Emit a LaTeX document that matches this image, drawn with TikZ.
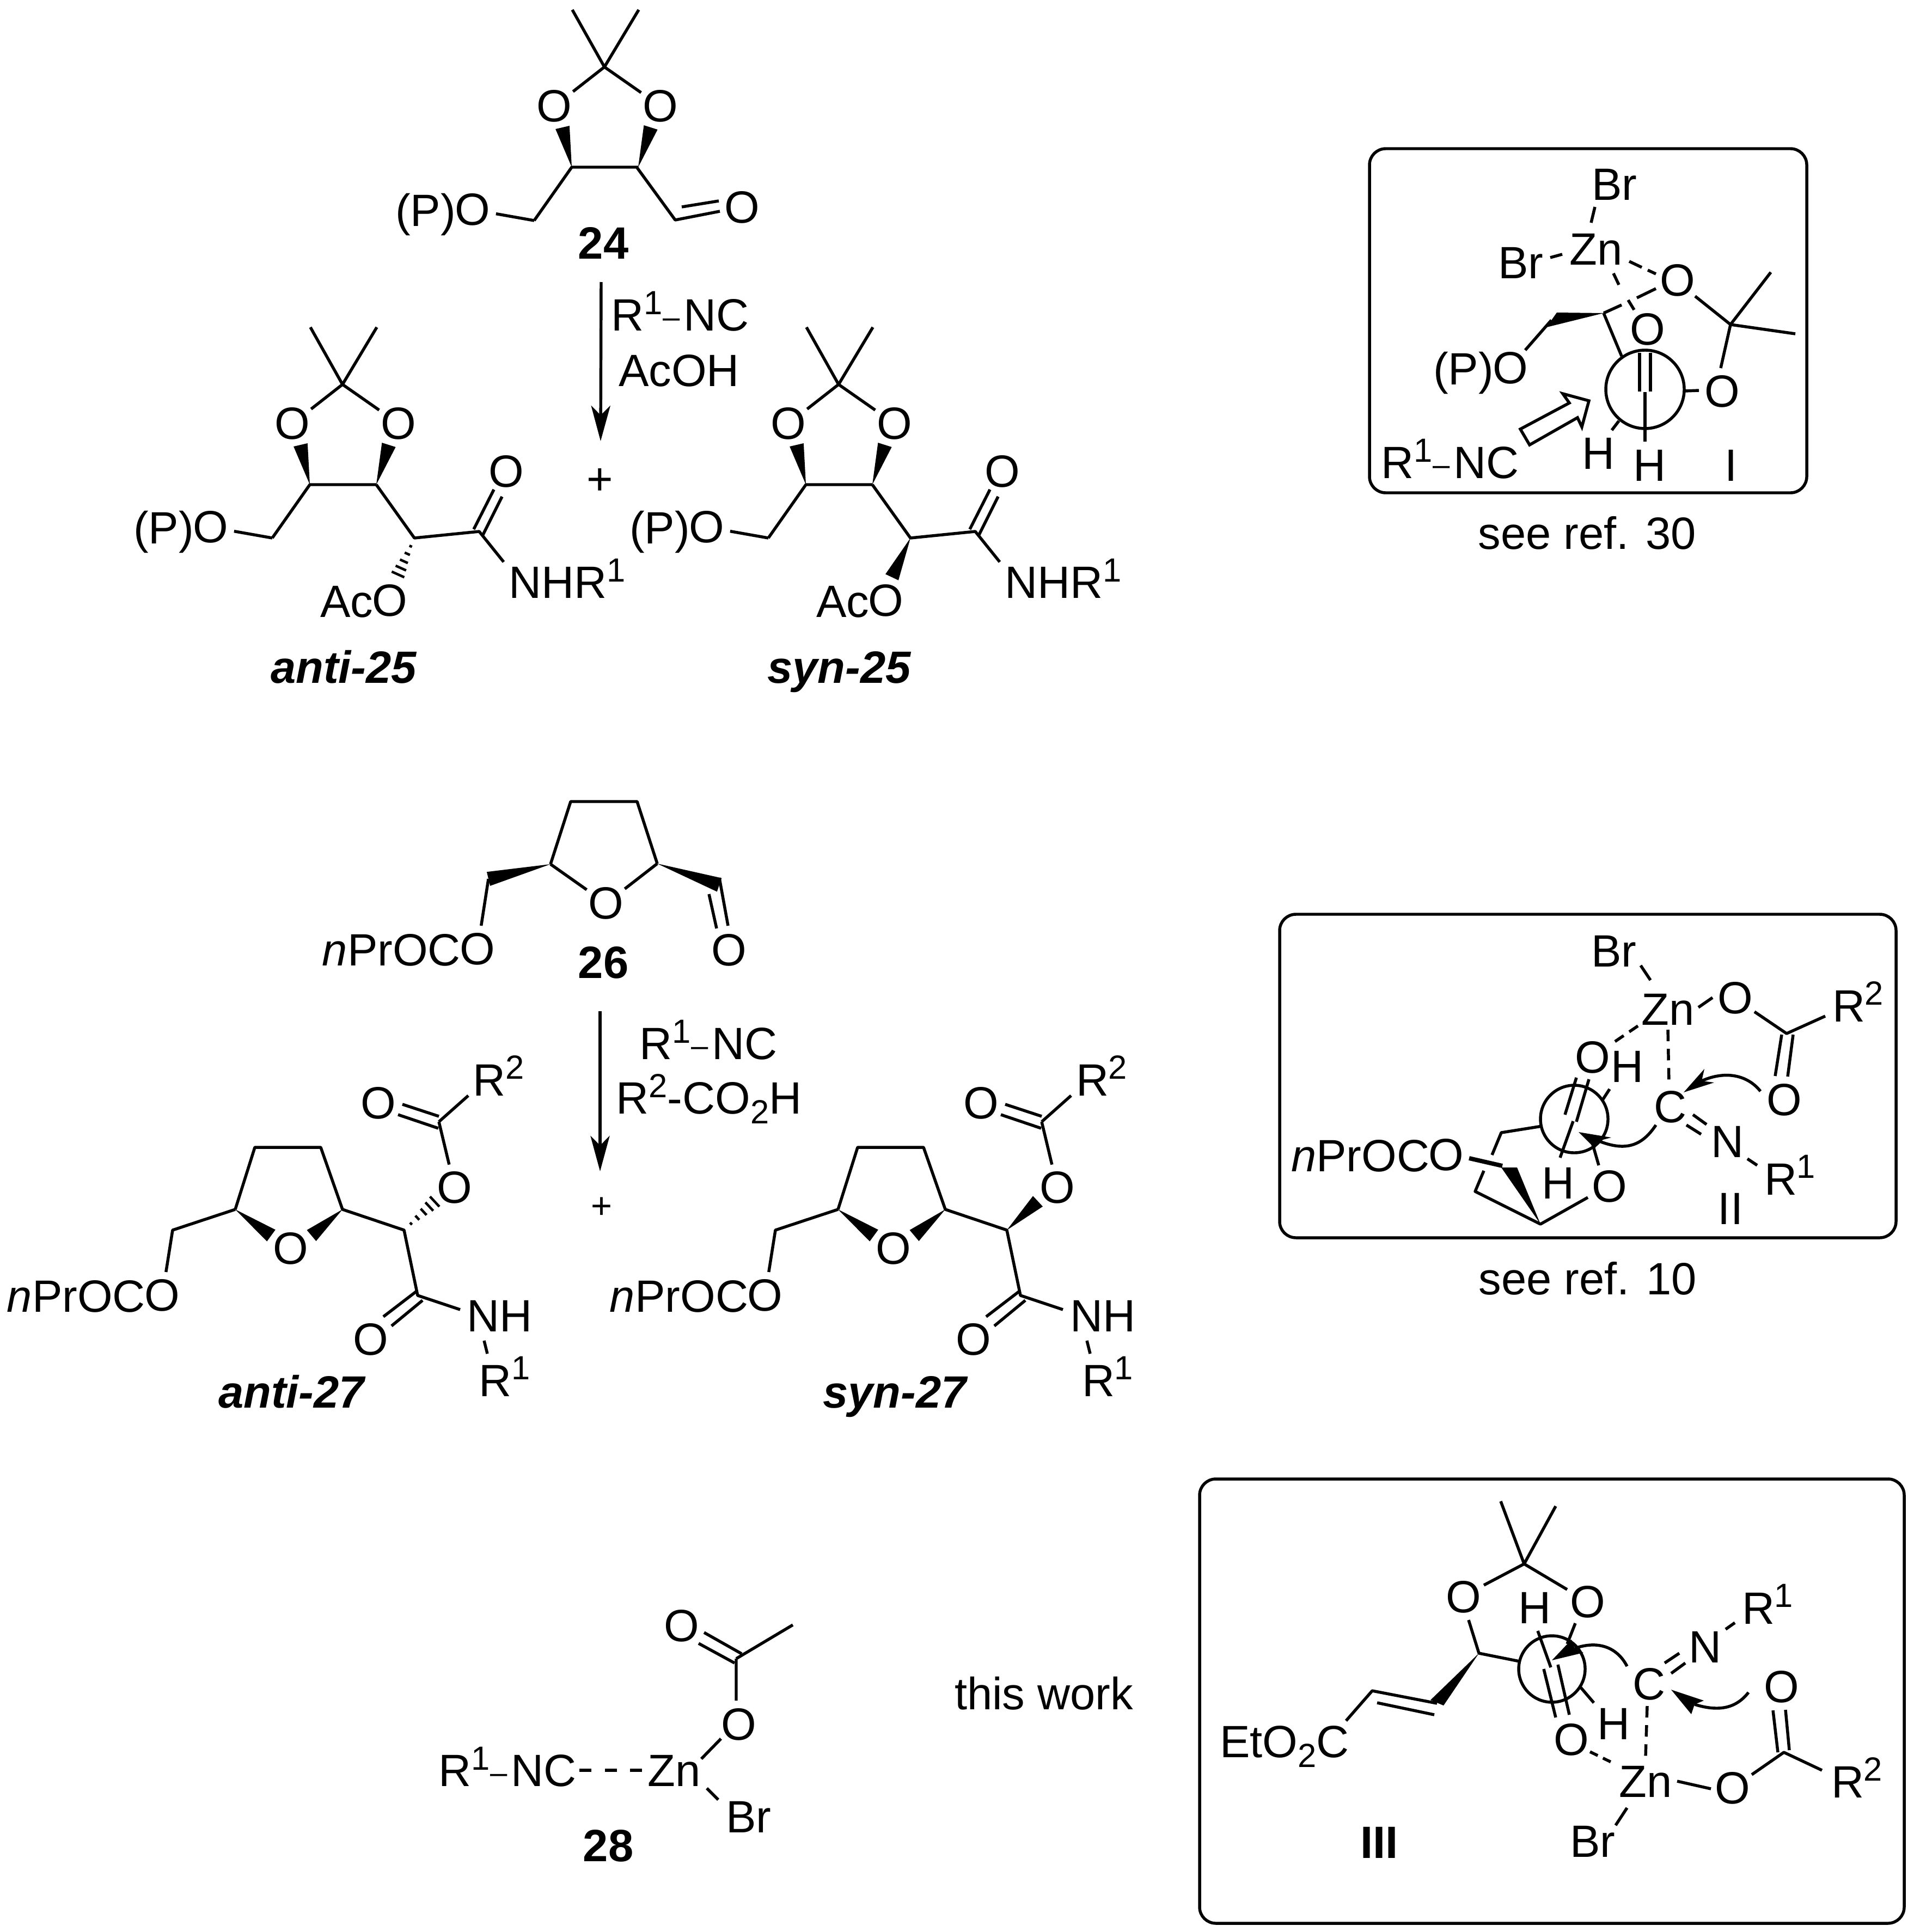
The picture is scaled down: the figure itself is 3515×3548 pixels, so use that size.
\documentclass[tikz,border=0pt]{standalone}
\usepackage{fontspec}
\setmainfont{Liberation Sans}
\usetikzlibrary{calc,arrows.meta}
\newcommand\chup[1]{\raisebox{.36em}{\fontsize{35}{35}\selectfont #1}}
\newcommand\chdn[1]{\raisebox{-.22em}{\fontsize{35}{35}\selectfont #1}}
\newcommand\chdash{\raisebox{.07em}{\fontsize{32}{32}\selectfont –}\kern.08em}
\tikzset{
  bond/.style={line width=3.1pt,line cap=butt,line join=round},
  frame/.style={line width=3.1pt,rounded corners=17pt},
  dbond/.style={bond,dash pattern=on 12pt off 8pt},
  hashb/.style={line width=2.6pt},
  atom/.style={circle,inner sep=0pt,outer sep=0pt,font=\fontsize{47.3}{50}\selectfont},
  lbl/.style={inner sep=0pt,outer sep=0pt,anchor=base,font=\fontsize{47.3}{50}\selectfont},
  supn/.style={inner sep=0pt,outer sep=0pt,font=\fontsize{35}{35}\selectfont},
  cpd/.style={lbl,font=\fontsize{47.3}{50}\selectfont\bfseries},
  cpdi/.style={lbl,font=\fontsize{47.3}{50}\selectfont\bfseries\itshape},
  rxn/.style={line width=3.1pt,-{Stealth[length=37pt,width=20pt,inset=10pt]}},
  openarrow/.style={line width=3.1pt,fill=white,line join=miter}
}
\newcommand\Wdg[2]{\fill ($(#2)!7.5pt!90:(#1)$) -- (#1) -- ($(#2)!7.5pt!-90:(#1)$) -- cycle;}
\newcommand\Hsh[2]{\foreach \t/\w in {.22/1.5,.42/3,.62/4.5,.8/6,.97/7.2}{\draw[hashb] ($(#1)!\t!(#2)!\w pt!90:(#2)$) -- ($(#1)!\t!(#2)!\w pt!-90:(#2)$);}}
% R with a superscript digit: name, x, y, digit
\newcommand\RSup{\RSupInner}
\newcommand\RSupInner[4]{\node[atom] (#1) at (#2,#3) {R}; \node[supn] (#1s) at ([shift={(47,-24)}]#1.center) {#4};}
% text set directly left of an atom
\newcommand\Lft[2]{\node[lbl,anchor=base east] (#1t) at ([shift={(-31,30)}]#1.center) {#2};}
% dioxolane fragment shared by 24 and 25
\newcommand\Diox[1]{
  \coordinate (q#1) at (629,706);
  \coordinate (ma#1) at (570,601);
  \coordinate (mb#1) at (692,601);
  \node[atom] (oa#1) at (537,778) {O};
  \node[atom] (ob#1) at (732,778) {O};
  \coordinate (ca#1) at (569,890);
  \coordinate (cb#1) at (691,890);
  \coordinate (ch#1) at (500,988);
  \node[atom] (op#1) at (387,968) {O};
  \Lft{op#1}{(P)}
  \draw[bond] (ma#1) -- (q#1) -- (mb#1) (q#1) -- (oa#1) (q#1) -- (ob#1) (ch#1) -- (ca#1) -- (cb#1);
  \draw[bond] (ch#1) -- (op#1);
  \Wdg{ca#1}{552,817}
  \Wdg{cb#1}{714,817}
}
% common part of 25
\newcommand\AmideA[1]{
  \coordinate (cx#1) at (761,988);
  \coordinate (cc#1) at (880,976);
  \node[atom] (oc#1) at (930,866) {O};
  \node[atom] (oo#1) at (716,1103) {O};
  \Lft{oo#1}{Ac}
  \node[lbl,anchor=base west] (nh#1) at (934,1098) {NHR\chup{1}};
  \coordinate (nb#1) at (925,1032);
  \coordinate (d1a#1) at (870,972);
  \coordinate (d1b#1) at (907,899);
  \coordinate (d2a#1) at (887,982);
  \coordinate (d2b#1) at (922,912);
  \draw[bond] (cb#1) -- (cx#1) -- (cc#1) -- (nb#1);
  \draw[bond] (d1a#1) -- (d1b#1) (d2a#1) -- (d2b#1);
}
% common part of 27
\newcommand\ThfA[1]{
  \coordinate (ta#1) at (468,2107);
  \coordinate (tb#1) at (589,2107);
  \coordinate (tl#1) at (432,2221);
  \coordinate (tr#1) at (629,2221);
  \node[atom] (to#1) at (534,2293) {O};
  \coordinate (tc#1) at (317,2259);
  \node[atom] (te#1) at (298,2379) {O};
  \Lft{te#1}{\textit{n}PrOC}
  \coordinate (tx#1) at (742,2259);
  \coordinate (ty#1) at (767,2379);
  \node[atom] (tp#1) at (681,2460) {O};
  \node[lbl] (tn#1) at (918,2445) {NH};
  \RSup{tr1#1}{910}{2536}{1}
  \coordinate (tna#1) at (889,2462);
  \coordinate (tnb#1) at (895,2486);
  \coordinate (tnc#1) at (845,2405);
  \node[atom] (tq#1) at (835,2181) {O};
  \coordinate (tk#1) at (806,2060);
  \node[atom] (tw#1) at (695,2026) {O};
  \RSup{tr2#1}{899}{1984}{2}
  \coordinate (tm#1) at (860,2012);
  \coordinate (tl1#1) at (739,2028);
  \coordinate (tl2#1) at (806,2050);
  \coordinate (tl3#1) at (731,2047);
  \coordinate (tl4#1) at (805,2072);
  \coordinate (tp1#1) at (704,2418);
  \coordinate (tp2#1) at (764,2372);
  \coordinate (tp3#1) at (719,2435);
  \coordinate (tp4#1) at (776,2388);
  \draw[bond] (tl#1) -- (ta#1) -- (tb#1) -- (tr#1) -- (tx#1) -- (ty#1) -- (tnc#1) (tl#1) -- (tc#1) -- (te#1);
  \draw[bond] (tna#1) -- (tnb#1) (tk#1) -- (tq#1) (tk#1) -- (tm#1);
  \draw[bond] (tl1#1) -- (tl2#1) (tl3#1) -- (tl4#1) (tp1#1) -- (tp2#1) (tp3#1) -- (tp4#1);
  \Wdg{tl#1}{498,2269}
  \Wdg{tr#1}{572,2269}
}
\begin{document}
\begin{tikzpicture}[x=0.2mm,y=-0.2mm]
\useasboundingbox (0,0) rectangle (3515,3548);

% ---------- compound 24
\begin{scope}[shift={(481,-583)}]
  \Diox{x}
\end{scope}
\coordinate (cho) at (1240,404);
\node[atom] (oald) at (1363,381) {O};
\draw[bond] (1170,308) -- (cho) -- (1322,388);
\draw[bond] (1252,380) -- (1320,369);
\node[cpd] (n24) at (1108,475) {24};
\coordinate (r1a) at (1104,518);
\coordinate (r1b) at (1103,810);
\draw[rxn] (r1a) -- (r1b);
\node[lbl] (r1t) at (1249,607) {R\chup{1}\chdash NC};
\node[lbl] (r1u) at (1247,709) {AcOH};
\node[lbl] (plus1) at (1102,908) {+};

% ---------- anti-25
\Diox{p}
\AmideA{p}
\Hsh{761,988}{730,1057}
\node[cpdi] (anti25) at (631,1254) {anti-25};
% ---------- syn-25
\begin{scope}[shift={(911,0)}]
  \Diox{s}
  \AmideA{s}
  \Wdg{761,988}{727,1060}
\end{scope}
\node[cpdi] (syn25) at (1541,1254) {syn-25};

% ---------- compound 26
\coordinate (fa) at (1048,1472);
\coordinate (fb) at (1170,1472);
\coordinate (fl) at (1011,1587);
\coordinate (fr) at (1207,1586);
\node[atom] (fo) at (1113,1659) {O};
\coordinate (fc) at (897,1614);
\node[atom] (fe) at (877,1743) {O};
\Lft{fe}{\textit{n}PrOC}
\node[atom] (fw) at (1339,1745) {O};
\draw[bond] (fl) -- (fa) -- (fb) -- (fr) (fl) -- (fo) -- (fr) (fc) -- (fe);
\Wdg{fl}{897,1614}
\Wdg{fr}{1321,1625}
\draw[bond] (1321,1612) -- (1337,1700) (1302,1642) -- (1316,1705);
\node[cpd] (n26) at (1108,1796) {26};
\coordinate (r2a) at (1102,1857);
\coordinate (r2b) at (1102,2151);
\draw[rxn] (r2a) -- (r2b);
\node[lbl] (r2t) at (1301,1945) {R\chup{1}\chdash NC};
\node[lbl] (r2u) at (1302,2045) {R\chup{2}-CO\chdn{2}H};
\node[lbl,font=\fontsize{38}{40}\selectfont] (plus2) at (1105,2237) {+};

% ---------- anti-27, syn-27
\ThfA{p}
\Hsh{742,2259}{800,2205}
\node[cpdi] (anti27) at (535,2585) {anti-27};
\begin{scope}[shift={(1107,0)}]
  \ThfA{s}
  \Wdg{742,2259}{799,2206}
\end{scope}
\node[cpdi] (syn27) at (1643,2585) {syn-27};

% ---------- compound 28
\coordinate (zc) at (1352,3046);
\coordinate (zm) at (1456,2984);
\node[atom] (zw) at (1252,2986) {O};
\node[atom] (zo) at (1357,3167) {O};
\node[lbl] (zz) at (1238,3280) {Zn};
\node[lbl] (zn) at (932,3280) {R\chup{1}\chdash NC};
\node[lbl] (zb) at (1375,3365) {Br};
\coordinate (zda) at (1064,3251);
\coordinate (zdb) at (1180,3251);
\draw[bond,dash pattern=on 12.5pt off 14pt] (zda) -- (zdb);
\draw[bond] (zc) -- (zm) (zc) -- (1352,3123);
\draw[bond] (1293,2998) -- (1362,3037) (1283,3018) -- (1349,3054);
\draw[bond] (1288,3230) -- (1324,3193) (1298,3284) -- (1319,3305);
\node[cpd] (n28) at (1117,3418) {28};
\node[lbl] (thiswork) at (1917,3139) {this work};

% ---------- box I
\draw[frame] (2515,273) rectangle (3318,905);
\node[lbl] (b1a) at (2965,367) {Br};
\node[lbl] (b1z) at (2931,486) {Zn};
\node[lbl] (b1b) at (2793,511) {Br};
\node[atom] (b1o) at (3081,515) {O};
\node[atom] (b1p) at (2774,676) {O};
\Lft{b1p}{(P)}
\node[atom] (b1d) at (3026,605) {O};
\node[atom] (b1r) at (3163,719) {O};
\node[lbl] (b1h) at (2935,861) {H};
\node[lbl] (b1i) at (3029,883) {H};
\node[lbl] (b1l) at (3179,883) {I};
\node[lbl] (b1n) at (2663,878) {R\chup{1}\chdash NC};
\node[lbl] (b1s) at (2915,1008) {see ref. 30};
\coordinate (b1c) at (2945,575);
\coordinate (b1q) at (3178,596);
\draw[bond] (2929,380) -- (2922,409) (2847,473) -- (2869,467);
\draw[bond] (2992,480) -- (3015,491) (3026,496) -- (3041,503);
\draw[bond] (2963,502) -- (2973,523) (2990,551) -- (3001,569);
\draw[bond] (b1c) -- (2978,560) (3006,547) -- (3041,530);
\fill (b1c) -- (2859,574) -- (2840,601) -- cycle;
\draw[bond] (2849,588) -- (2801,643);
\draw[bond] (b1c) -- (2978,654);
\draw[bond] (3021,715) circle[radius=72];
\draw[bond] (3011,648) -- (3011,719) (3031,648) -- (3031,719);
\draw[bond] (3021,720) -- (3021,811);
\draw[bond] (2973,773) -- (2960,790);
\draw[bond] (3094,718) -- (3120,717);
\draw[bond] (3113,544) -- (b1q) -- (3160,676) (3252,500) -- (b1q) -- (3297,613);
\draw[openarrow] (2792,788) -- (2809,817) -- (2897,767) -- (2905,784) -- (2918,736) -- (2870,723) -- (2882,740) -- cycle;

% ---------- box II
\draw[frame] (2350,1679) rectangle (3482,2273);
\node[lbl] (b2b) at (2964,1775) {Br};
\node[lbl] (b2z) at (3063,1882) {Zn};
\node[atom] (b2o) at (3187,1833) {O};
\RSup{b2r}{3395}{1848}{2}
\coordinate (b2k) at (3281,1898);
\node[atom] (b2w) at (3277,2020) {O};
\node[atom] (b2v) at (2925,1942) {O};
\node[lbl] (b2h) at (2988,1987) {H};
\node[lbl] (b2c) at (3067,2061) {C};
\node[atom] (b2n) at (3172,2097) {N};
\RSup{b2s}{3270}{2166}{1}
\node[lbl] (b2l) at (3178,2248) {II};
\node[atom] (b2e) at (2656,2121) {O};
\Lft{b2e}{\textit{n}PrOC}
\node[atom] (b2f) at (2956,2179) {O};
\node[lbl] (b2i) at (2861,2201) {H};
\node[lbl] (b2t) at (2916,2377) {see ref. 10};
\draw[bond] (3013,1773) -- (3031,1800) (3119,1850) -- (3145,1832) (3222,1858) -- (b2k) -- (3352,1866);
\draw[bond] (3272,1900) -- (3260,1976) (3293,1900) -- (3283,1977);
\draw[dbond] (3063,1891) -- (3065,1987);
\draw[bond,dash pattern=on 11pt off 7pt] (3008,1884) -- (2958,1918);
\draw[bond] (2891,2055) circle[radius=62];
\draw[bond] (2895,1979) -- (2874,2047) (2918,1982) -- (2895,2060) (2889,2059) -- (2865,2126);
\draw[bond] (2956,2000) -- (2943,2020);
\draw[bond] (2832,2068) -- (2757,2080) -- (2740,2121);
\draw[line width=4.5pt] (2698,2127) -- (2759,2141);
\fill (2757,2144) -- (2786,2144) -- (2829,2248) -- cycle;
\draw[bond] (2725,2150) -- (2709,2188) -- (2829,2248) -- (2916,2199);
\draw[bond] (2936,2140) -- (2923,2095);
\draw[bond] (3233,2004) .. controls (3210,1975) and (3170,1965) .. (3125,1985);
\fill (3092,2006) -- (3130,1963) -- (3125,1985) -- (3148,1988) -- cycle;
\draw[bond] (3041,2066) .. controls (3015,2105) and (2985,2115) .. (2935,2095);
\fill (2899,2079) -- (2959,2089) -- (2936,2095) -- (2929,2109) -- cycle;
\draw[bond] (3109,2047) -- (3134,2065) (3097,2066) -- (3124,2083) (3209,2128) -- (3227,2140);

% ---------- box III
\draw[frame] (2203,2716) rectangle (3497,3532);
\coordinate (b3q) at (2799,2872);
\coordinate (b3c) at (2716,3036);
\node[atom] (b3a) at (2688,2933) {O};
\node[atom] (b3b) at (2916,2942) {O};
\node[lbl] (b3h) at (2818,2981) {H};
\node[atom] (b3d) at (2886,3195) {O};
\node[lbl] (b3i) at (2963,3194) {H};
\node[lbl] (b3z) at (3022,3300) {Zn};
\node[lbl] (b3br) at (2925,3410) {Br};
\node[atom] (b3o) at (3182,3284) {O};
\coordinate (b3k) at (3276,3218);
\node[atom] (b3w) at (3272,3098) {O};
\RSup{b3r}{3393}{3273}{2}
\node[lbl] (b3g) at (3028,3121) {C};
\node[atom] (b3n) at (3131,3025) {N};
\RSup{b3s}{3229}{2954}{1}
\node[lbl] (b3e) at (2359,3227) {EtO\chdn{2}C};
\node[cpd] (b3l) at (2533,3412) {III};
\draw[bond] (2756,2757) -- (b3q) -- (2857,2766) (b3q) -- (2725,2911) (b3q) -- (2878,2919);
\draw[bond] (2697,2975) -- (b3c) -- (2791,3051);
\draw[bond] (2850,3065) circle[radius=61];
\draw[bond] (2824,2995) -- (2848,3062);
\draw[bond] (2835,3065) -- (2857,3154) (2861,3057) -- (2882,3149);
\draw[bond] (2893,2981) -- (2878,3019);
\draw[bond] (2903,3099) -- (2927,3127);
\draw[bond,dash pattern=on 9pt off 6pt] (2920,3217) -- (2967,3240);
\draw[bond] (2988,3320) -- (2967,3352) (3080,3271) -- (3142,3285) (3217,3259) -- (b3k) -- (3346,3251);
\draw[bond] (3256,3141) -- (3265,3218) (3279,3140) -- (3286,3214);
\draw[dbond] (3025,3133) -- (3022,3227);
\draw[bond] (3057,3054) -- (3084,3036) (3069,3073) -- (3095,3054) (3169,2992) -- (3186,2980);
\draw[bond] (2988,3060) .. controls (2970,3025) and (2935,3012) .. (2892,3027);
\fill (2850,3049) -- (2886,3011) -- (2892,3027) -- (2908,3035) -- cycle;
\draw[bond] (3211,3108) .. controls (3190,3135) and (3160,3145) .. (3112,3130);
\fill (3069,3103) -- (3129,3123) -- (3112,3130) -- (3106,3148) -- cycle;
\fill (b3c) -- (2627,3122) -- (2651,3132) -- cycle;
\draw[bond] (2639,3128) -- (2520,3105) -- (2472,3160);
\draw[bond] (2529,3127) -- (2634,3149);
\end{tikzpicture}
\end{document}
